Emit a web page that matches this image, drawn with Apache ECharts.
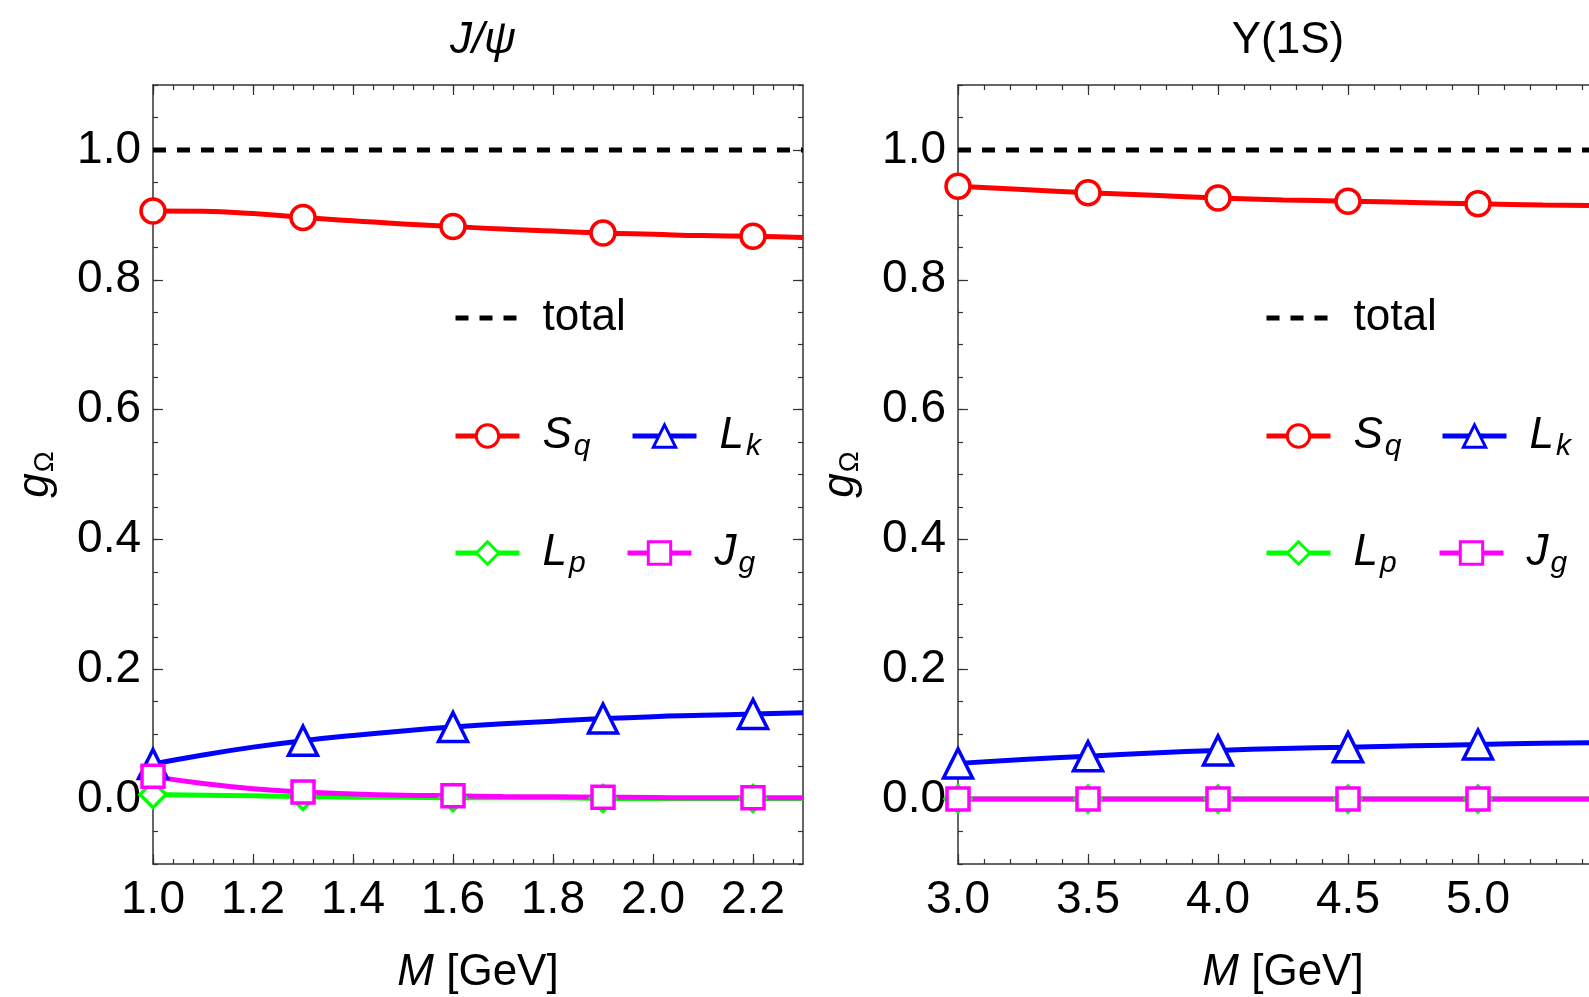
<!DOCTYPE html>
<html>
<head>
<meta charset="utf-8">
<script src="https://cdn.jsdelivr.net/npm/echarts@6/dist/echarts.min.js"></script>
<style>html,body{margin:0;padding:0;background:#fff;}#c{width:1589px;height:997px;}</style>
</head>
<body>
<div id="c"></div>
<script>
// ---------- data ----------
const jpsiX      = [1.0, 1.1, 1.2, 1.3, 1.4, 1.5, 1.6, 1.7, 1.8, 1.9, 2.0, 2.1, 2.2, 2.3];
const jpsiSq     = [0.906, 0.9055, 0.902, 0.896, 0.891, 0.886, 0.882, 0.878, 0.875, 0.872, 0.870, 0.868, 0.867, 0.865];
const jpsiLk     = [0.054, 0.068, 0.080, 0.090, 0.098, 0.105, 0.111, 0.116, 0.120, 0.124, 0.127, 0.129, 0.131, 0.133];
const jpsiLp     = [0.007, 0.006, 0.005, 0.004, 0.003, 0.003, 0.002, 0.002, 0.002, 0.001, 0.001, 0.001, 0.001, 0.001];
const jpsiJg     = [0.035, 0.024, 0.016, 0.011, 0.008, 0.006, 0.005, 0.004, 0.0035, 0.003, 0.0025, 0.002, 0.002, 0.002];
const jpsiMarkX  = [1.0, 1.3, 1.6, 1.9, 2.2];

const upsX       = [3.0, 3.25, 3.5, 3.75, 4.0, 4.25, 4.5, 4.75, 5.0, 5.25, 5.5];
const upsSq      = [0.944, 0.939, 0.934, 0.930, 0.926, 0.923, 0.921, 0.919, 0.917, 0.915, 0.914];
const upsLk      = [0.055, 0.061, 0.066, 0.071, 0.075, 0.078, 0.080, 0.082, 0.084, 0.086, 0.087];
const upsLp      = [0.000, 0.000, 0.000, 0.000, 0.000, 0.000, 0.000, 0.000, 0.000, 0.000, 0.000];
const upsJg      = [0.000, 0.000, 0.000, 0.000, 0.000, 0.000, 0.000, 0.000, 0.000, 0.000, 0.000];
const upsMarkX   = [3.0, 3.5, 4.0, 4.5, 5.0];

const totalValue = 1.0;

const titles      = ['J/ψ', 'Υ(1S)'];
const jpsiXTicks  = [1.0, 1.2, 1.4, 1.6, 1.8, 2.0, 2.2];
const jpsiXLabels = [1.0, 1.2, 1.4, 1.6, 1.8, 2.0, 2.2];
const upsXTicks   = [3.0, 3.5, 4.0, 4.5, 5.0, 5.5];
const upsXLabels  = [3.0, 3.5, 4.0, 4.5, 5.0];
const yTicks      = [0.0, 0.2, 0.4, 0.6, 0.8, 1.0];
const jpsiXRange  = [1.0, 2.3];
const upsXRange   = [3.0, 5.5];
const yRange      = [-0.1, 1.1];

// ---------- styling ----------
const FONT = 'Liberation Sans, Arial, sans-serif';
const FRAME = '#333';
const LW = 5;
const COLORS = { total: '#000000', Sq: '#ff0000', Lk: '#0000ff', Lp: '#00ff00', Jg: '#ff00ff' };
const SYMBOLS = { Sq: ['circle', 24], Lk: ['triangle', 29], Lp: ['diamond', 26], Jg: ['rect', 22] };
const LABELS = { total: ['total', ''], Sq: ['S', 'q'], Lk: ['L', 'k'], Lp: ['L', 'p'], Jg: ['J', 'g'] };

function minors(lo, hi, step) {
  const out = [];
  const n = Math.round((hi - lo) / step);
  for (let i = 0; i <= n; i++) out.push(+(lo + i * step).toFixed(4));
  return out;
}

const grids = [
  { left: 153, top: 85, width: 650, height: 779, outerBoundsMode: 'none', containLabel: false },
  { left: 958, top: 85, width: 650, height: 779, outerBoundsMode: 'none', containLabel: false }
];

const xAxes = [], yAxes = [];
function addAxes(g, xr, xt, xl, xminStep) {
  const base = { gridIndex: g, type: 'value', splitLine: { show: false } };
  const xMin = minors(xr[0], xr[1], xminStep);
  const yMin = minors(yRange[0], yRange[1], 0.05);
  xAxes.push(Object.assign({}, base, {
    min: xr[0], max: xr[1], position: 'bottom',
    axisLine: { show: true, onZero: false, lineStyle: { color: FRAME, width: 1.5 } },
    axisTick: { show: true, inside: true, length: 10, customValues: xt, lineStyle: { color: FRAME, width: 1.2 } },
    axisLabel: { show: true, customValues: xl, margin: 13, color: '#000', fontSize: 46, fontFamily: FONT,
      formatter: v => v.toFixed(1) },
    name: '{i|M}{n|\u00a0[GeV]}', nameLocation: 'middle', nameGap: 87,
    nameTextStyle: { rich: {
      i: { fontSize: 44, fontStyle: 'italic', fontFamily: FONT, color: '#000' },
      n: { fontSize: 44, fontFamily: FONT, color: '#000' } } }
  }));
  const xIdx = xAxes.length - 1;
  xAxes.push(Object.assign({}, base, {
    min: xr[0], max: xr[1], position: 'bottom',
    axisLine: { show: false, onZero: false },
    axisTick: { show: true, inside: true, length: 5, customValues: xMin, lineStyle: { color: FRAME, width: 1.2 } },
    axisLabel: { show: false }
  }));
  xAxes.push(Object.assign({}, base, {
    min: xr[0], max: xr[1], position: 'top',
    axisLine: { show: true, onZero: false, lineStyle: { color: FRAME, width: 1.5 } },
    axisTick: { show: true, inside: true, length: 10, customValues: xt, lineStyle: { color: FRAME, width: 1.2 } },
    axisLabel: { show: false }
  }));
  xAxes.push(Object.assign({}, base, {
    min: xr[0], max: xr[1], position: 'top',
    axisLine: { show: false, onZero: false },
    axisTick: { show: true, inside: true, length: 5, customValues: xMin, lineStyle: { color: FRAME, width: 1.2 } },
    axisLabel: { show: false }
  }));
  yAxes.push(Object.assign({}, base, {
    min: yRange[0], max: yRange[1], position: 'left',
    axisLine: { show: true, onZero: false, lineStyle: { color: FRAME, width: 1.5 } },
    axisTick: { show: true, inside: true, length: 10, customValues: yTicks, lineStyle: { color: FRAME, width: 1.2 } },
    axisLabel: { show: true, customValues: yTicks, margin: 12, color: '#000', fontSize: 46, fontFamily: FONT,
      formatter: v => v.toFixed(1) },
    name: '{g|g}{o|Ω}', nameLocation: 'middle', nameGap: 94, nameRotate: 90,
    nameTextStyle: { rich: {
      g: { fontSize: 44, fontStyle: 'italic', fontFamily: FONT, color: '#000' },
      o: { fontSize: 28, fontFamily: FONT, color: '#000', padding: [18, 0, 0, 1] } } }
  }));
  const yIdx = yAxes.length - 1;
  yAxes.push(Object.assign({}, base, {
    min: yRange[0], max: yRange[1], position: 'left',
    axisLine: { show: false, onZero: false },
    axisTick: { show: true, inside: true, length: 5, customValues: yMin, lineStyle: { color: FRAME, width: 1.2 } },
    axisLabel: { show: false }
  }));
  yAxes.push(Object.assign({}, base, {
    min: yRange[0], max: yRange[1], position: 'right',
    axisLine: { show: true, onZero: false, lineStyle: { color: FRAME, width: 1.5 } },
    axisTick: { show: true, inside: true, length: 10, customValues: yTicks, lineStyle: { color: FRAME, width: 1.2 } },
    axisLabel: { show: false }
  }));
  yAxes.push(Object.assign({}, base, {
    min: yRange[0], max: yRange[1], position: 'right',
    axisLine: { show: false, onZero: false },
    axisTick: { show: true, inside: true, length: 5, customValues: yMin, lineStyle: { color: FRAME, width: 1.2 } },
    axisLabel: { show: false }
  }));
  return [xIdx, yIdx];
}

const ax0 = addAxes(0, jpsiXRange, jpsiXTicks, jpsiXLabels, 0.04);
const ax1 = addAxes(1, upsXRange, upsXTicks, upsXLabels, 0.1);

function curveSeries(name, xs, ys, marks, axIdx) {
  const sym = SYMBOLS[name];
  return {
    name: name, type: 'line', xAxisIndex: axIdx[0], yAxisIndex: axIdx[1],
    smooth: 0.5, showAllSymbol: true,
    symbol: sym[0], symbolSize: sym[1],
    lineStyle: { color: COLORS[name], width: LW },
    itemStyle: { color: '#fff', borderColor: COLORS[name], borderWidth: 3.5 },
    emphasis: { disabled: true },
    data: xs.map((x, i) => marks.some(m => Math.abs(m - x) < 1e-9)
      ? { value: [x, ys[i]] }
      : { value: [x, ys[i]], symbol: 'none' }),
    z: 3
  };
}
function totalSeries(range, axIdx) {
  return {
    name: 'total', type: 'line', xAxisIndex: axIdx[0], yAxisIndex: axIdx[1],
    symbol: 'none', lineStyle: { color: COLORS.total, width: LW, type: [13, 11] },
    itemStyle: { color: COLORS.total }, emphasis: { disabled: true },
    data: [[range[0], totalValue], [range[1], totalValue]], z: 2
  };
}

const series = [
  totalSeries(jpsiXRange, ax0),
  curveSeries('Sq', jpsiX, jpsiSq, jpsiMarkX, ax0),
  curveSeries('Lk', jpsiX, jpsiLk, jpsiMarkX, ax0),
  curveSeries('Lp', jpsiX, jpsiLp, jpsiMarkX, ax0),
  curveSeries('Jg', jpsiX, jpsiJg, jpsiMarkX, ax0),
  totalSeries(upsXRange, ax1),
  curveSeries('Sq', upsX, upsSq, upsMarkX, ax1),
  curveSeries('Lk', upsX, upsLk, upsMarkX, ax1),
  curveSeries('Lp', upsX, upsLp, upsMarkX, ax1),
  curveSeries('Jg', upsX, upsJg, upsMarkX, ax1)
];

const legendRich = {
  sp: { width: 18 },
  t: { fontSize: 44, fontFamily: FONT, color: '#000' },
  m: { fontSize: 44, fontStyle: 'italic', fontFamily: FONT, color: '#000' },
  s: { fontSize: 30, fontStyle: 'italic', fontFamily: FONT, color: '#000', padding: [22, 0, 0, 2] }
};
function legendItem(name, left, cy) {
  const isTotal = name === 'total';
  return {
    data: [name], left: left, top: cy - (isTotal ? 19 : 22), itemWidth: 64, itemHeight: 28, itemGap: 0,
    selectedMode: false, padding: 0,
    lineStyle: { width: LW },
    itemStyle: isTotal ? { opacity: 0 } : { borderWidth: 3 },
    formatter: n => {
      const l = LABELS[n];
      return isTotal ? '{sp| }{t|total}' : '{sp| }{m|' + l[0] + '}{s|' + l[1] + '}';
    },
    textStyle: { rich: legendRich }
  };
}
const legends = [
  legendItem('total', 453, 315), legendItem('Sq', 453, 436), legendItem('Lk', 630, 436),
  legendItem('Lp', 453, 553), legendItem('Jg', 625, 553),
  legendItem('total', 1264, 315), legendItem('Sq', 1264, 436), legendItem('Lk', 1440, 436),
  legendItem('Lp', 1264, 553), legendItem('Jg', 1437, 553)
];

const option = {
  animation: false,
  backgroundColor: '#fff',
  title: [
    { text: titles[0], left: 478, top: 14, textAlign: 'center',
      textStyle: { fontSize: 44, fontStyle: 'italic', fontWeight: 'normal', fontFamily: FONT, color: '#000' } },
    { text: titles[1], left: 1283, top: 14, textAlign: 'center',
      textStyle: { fontSize: 44, fontWeight: 'normal', fontFamily: FONT, color: '#000' } }
  ],
  legend: legends,
  grid: grids,
  xAxis: xAxes,
  yAxis: yAxes,
  series: series
};

const chart = echarts.init(document.getElementById('c'), null, { renderer: 'canvas' });
chart.setOption(option);
</script>
</body>
</html>
